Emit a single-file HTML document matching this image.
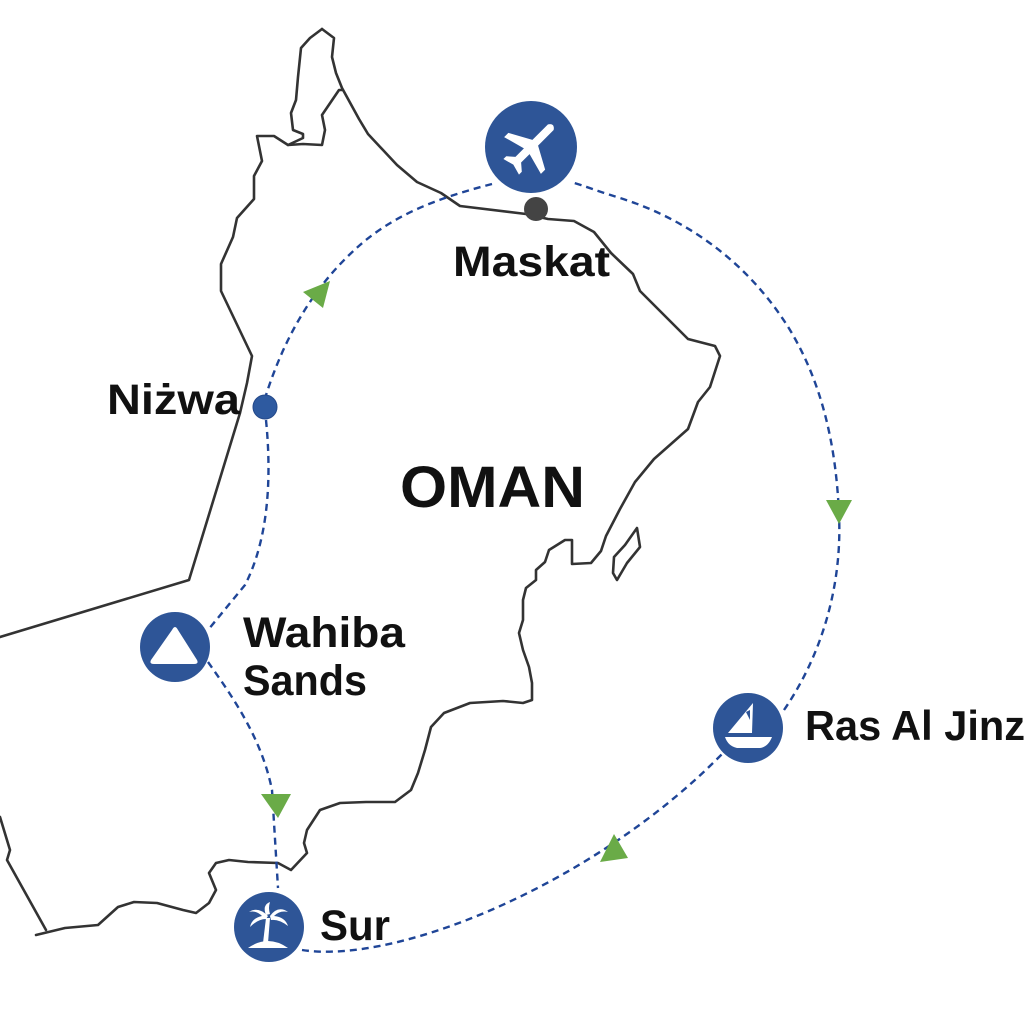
<!DOCTYPE html>
<html><head><meta charset="utf-8"><style>
html,body{margin:0;padding:0;background:#fff;}
svg{display:block;}
text{font-family:"Liberation Sans",sans-serif;font-weight:bold;fill:#111;}
</style></head><body>
<svg width="1024" height="1024" viewBox="0 0 1024 1024" xmlns="http://www.w3.org/2000/svg">
<rect width="1024" height="1024" fill="#fff"/>
<g fill="none" stroke="#333" stroke-width="2.6" stroke-linejoin="round" stroke-linecap="round">
<path d="M322,29 L334,38 L332,57 L336,73 L342,88 L359,119 L368,134 L397,165 L417,182 L441,193 L460,206 L526,214 L548,219 L574,221 L594,232 L611,253 L633,274 L640,291 L674,325 L688,339 L715,346 L720,356 L710,387 L698,402 L688,429 L654,459 L635,482 L620,509 L606,536 L601,551 L591,563 L572,564 L572,540 L565,540 L549,550 L545,562 L536,570 L536,580 L526,588 L523,600 L523,620 L519,633 L523,650 L529,667 L532,683 L532,700 L523,703 L503,701 L470,703 L444,713 L431,727 L425,750 L418,773 L411,790 L395,802 L366,802 L340,803 L320,810 L307,830 L304,843 L307,853 L291,870 L278,863 L248,862 L229,860 L216,863 L209,873 L216,890 L209,903 L196,913 L183,910 L157,903 L134,902 L118,907 L98,925 L65,928 L36,935"/>
<path d="M322,29 L310,38 L301,48 L298,77 L296,100 L291,113 L293,130 L303,134 L303,138 L288,145 L274,136 L257,136 L262,161 L254,176 L254,199 L237,218 L233,237 L221,264 L221,291 L252,356 L247,383 L240,413 L189,580 L0,637"/>
<path d="M342,90 L339,90 L322,115 L325,130 L322,145 L303,144 L288,145"/>
<path d="M0,817 L10,850 L7,860 L46,930"/>
<path d="M637,528 L640,547 L627,563 L617,580 L613,573 L614,557 L625,545 Z"/>
</g>
<g fill="none" stroke="#1f4597" stroke-width="2.4" stroke-dasharray="7,5">
<path d="M492,184 C450,195 400,210 360,245 C320,280 285,330 263,405"/>
<path d="M266,420 C272,480 268,540 245,585 L208,630"/>
<path d="M208,662 C235,700 262,740 272,790 L278,888"/>
<path d="M302,950 C400,965 600,880 724,752"/>
<path d="M784,710 C825,650 842,580 839,515 C836,440 820,380 790,330 C750,265 690,220 620,198 C600,192 585,186 571,182"/>
</g>
<g fill="#6aab47">
<polygon points="330,281 303,292 323,308"/>
<polygon points="826,500 852,500 839,524"/>
<polygon points="261,794 291,794 278,818"/>
<polygon points="614,834 628,858 600,862"/>
</g>
<circle cx="536" cy="209" r="12" fill="#444"/>
<circle cx="265" cy="407" r="12" fill="#2e5aa0" stroke="#24498a" stroke-width="1"/>
<g fill="#2e5597">
<circle cx="531" cy="147" r="46"/>
<circle cx="175" cy="647" r="35"/>
<circle cx="269" cy="927" r="35"/>
<circle cx="748" cy="728" r="35"/>
</g>
<g transform="translate(531,147) rotate(45)" fill="#fff">
<path d="M-4,-28 Q0,-34 4,-28 L4,-6 L26,6 L26,12 L4,6 L4,18 L11,24 L11,28 L0,25 L-11,28 L-11,24 L-4,18 L-4,6 L-26,12 L-26,6 L-4,-6 Z"/>
</g>
<path d="M172,630 Q175,624 178,630 L197,660 Q199,664 194,664 L154,664 Q149,664 151,660 Z" fill="#fff"/>
<g fill="#fff">
<path d="M753,703 L752,733 L728,733 Z"/>
<path d="M746,712 L750,710 L750,720 Z" fill="#2e5597"/>
<path d="M725,737 L772,737 Q768,747 760,748 L737,748 Q728,746 725,737 Z"/>
</g>
<g fill="#fff">
<path d="M248,948 Q268,934 288,948 Z"/>
<path d="M266,918 L270,918 L268,943 L263,943 Z"/>
<path d="M268,916 Q258,906 249,912 Q256,910 262,916 Q252,918 250,927 Q258,919 266,919 Z"/>
<path d="M270,916 Q278,905 288,912 Q280,910 274,916 Q285,917 288,926 Q279,919 271,920 Z"/>
<path d="M266,915 Q262,905 270,902 Q268,908 270,914 Z"/>
</g>
<text x="453" y="276" font-size="43" textLength="157" lengthAdjust="spacingAndGlyphs">Maskat</text>
<text x="107" y="414" font-size="43" textLength="133" lengthAdjust="spacingAndGlyphs">Niżwa</text>
<text x="400" y="507" font-size="58" textLength="185" lengthAdjust="spacingAndGlyphs">OMAN</text>
<text x="243" y="647" font-size="43" textLength="162" lengthAdjust="spacingAndGlyphs">Wahiba</text>
<text x="243" y="695" font-size="43" textLength="124" lengthAdjust="spacingAndGlyphs">Sands</text>
<text x="320" y="940" font-size="43" textLength="70" lengthAdjust="spacingAndGlyphs">Sur</text>
<text x="805" y="740" font-size="42" textLength="220" lengthAdjust="spacingAndGlyphs">Ras Al Jinz</text>
</svg>
</body></html>
